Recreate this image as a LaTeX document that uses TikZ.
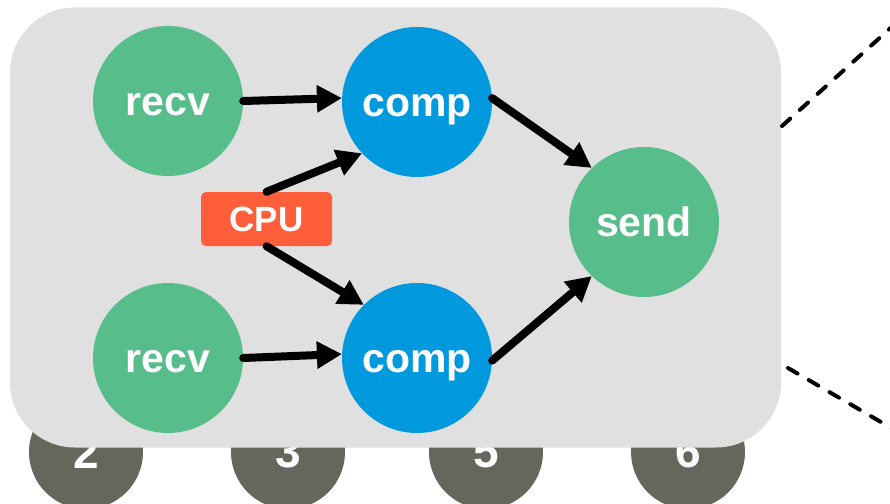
\documentclass[tikz,border=0pt]{standalone}
\usepackage{fontspec}
\setmainfont{Liberation Sans}
\usetikzlibrary{arrows.meta}
\definecolor{grn}{HTML}{57BD8B}
\definecolor{blu}{HTML}{0099DE}
\definecolor{org}{HTML}{FF5E3A}
\definecolor{panel}{HTML}{E0E0E0}
\definecolor{dgray}{HTML}{66665C}
\tikzset{
  stage/.style={circle, minimum size=150pt, inner sep=0pt, text height=29.5pt, text depth=0pt, text=white, font=\fontsize{41}{41}\selectfont\bfseries},
  greennode/.style={stage, fill=grn},
  bluenode/.style={stage, fill=blu},
  cpubox/.style={rectangle, rounded corners=5pt, fill=org, minimum width=131pt, minimum height=54pt, inner sep=0pt, text=white, font=\fontsize{35}{35}\selectfont\bfseries},
  numnode/.style={circle, fill=dgray, minimum size=114pt, inner sep=0pt, text=white, font=\fontsize{46}{46}\selectfont\bfseries},
  flow/.style={line width=8pt, line cap=round, -{Triangle[length=25pt, width=26pt]}},
  zoomline/.style={line width=4pt, line cap=round, dash pattern=on 11pt off 13pt},
}
\begin{document}
\begin{tikzpicture}[x=1pt, y=-1pt]
\useasboundingbox (0,0) rectangle (890,503);
\clip (0,0) rectangle (890,503);
% number circles behind panel
\node[numnode] (n2) at (86,452) {2};
\node[numnode] (n3) at (288,452) {3};
\node[numnode] (n5) at (486,452) {5};
\node[numnode] (n6) at (688,452) {6};
% panel
\node[fill=panel, rounded corners=65pt, minimum width=771pt, minimum height=440pt, inner sep=0pt] (panel) at (395.5,227.5) {};
% stages
\node[greennode] (recv1) at (168,101) {recv};
\node[bluenode] (comp1) at (417,102) {comp};
\node[greennode] (recv2) at (168,358) {recv};
\node[bluenode] (comp2) at (417,358) {comp};
\node[greennode] (send) at (644,222) {send};
\node[cpubox] (cpu) at (266.5,219) {CPU};
% arrows
\draw[flow] (recv1.east) -- (comp1.177);
\draw[flow] (recv2.east) -- (comp2.177);
\draw[flow] (cpu.north) -- (comp1.223);
\draw[flow] (cpu.south) -- (comp2.135);
\draw[flow] (comp1.3) -- (send.134);
\draw[flow] (comp2.358) -- (send.226);
% zoom lines
\coordinate (t1) at (782,126);
\coordinate (t2) at (905,15);
\coordinate (b1) at (788,368);
\coordinate (b2) at (905,436);
\draw[zoomline] (t1) -- (t2);
\draw[zoomline] (b1) -- (b2);
\end{tikzpicture}
\end{document}
